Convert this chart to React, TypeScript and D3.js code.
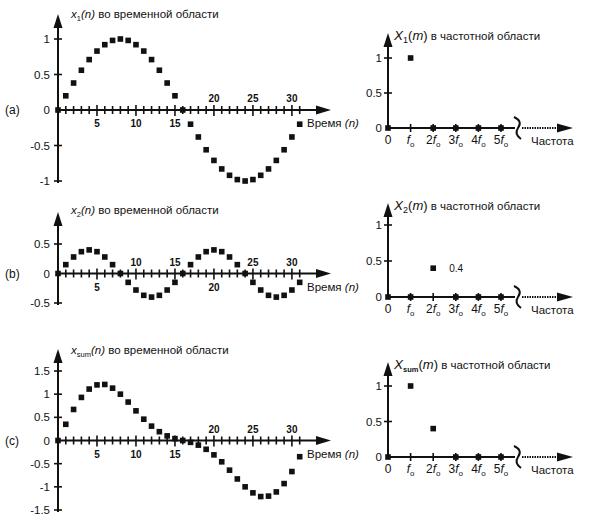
import React from 'react'
import * as d3 from 'd3'

// time-domain samples, n = 0..31
const nIdx = d3.range(32)
const x1Values = [0, 0.2, 0.38, 0.56, 0.71, 0.83, 0.92, 0.98, 1, 0.98, 0.92, 0.83, 0.71, 0.56, 0.38, 0.2,
  0, -0.2, -0.38, -0.56, -0.71, -0.83, -0.92, -0.98, -1, -0.98, -0.92, -0.83, -0.71, -0.56, -0.38, -0.2]
const x2Values = [0, 0.15, 0.28, 0.37, 0.4, 0.37, 0.28, 0.15, 0, -0.15, -0.28, -0.37, -0.4, -0.37, -0.28, -0.15,
  0, 0.15, 0.28, 0.37, 0.4, 0.37, 0.28, 0.15, 0, -0.15, -0.28, -0.37, -0.4, -0.37, -0.28, -0.15]
const xsumValues = [0, 0.35, 0.67, 0.93, 1.11, 1.2, 1.21, 1.13, 1, 0.83, 0.64, 0.46, 0.31, 0.19, 0.1, 0.04,
  0, -0.04, -0.1, -0.19, -0.31, -0.46, -0.64, -0.83, -1, -1.13, -1.21, -1.2, -1.11, -0.93, -0.67, -0.35]

// frequency-domain magnitudes, m = 0..5
const mIdx = [0, 1, 2, 3, 4, 5]
const mLabels = ['0', 'f', '2f', '3f', '4f', '5f']
const X1Values = [0, 1, 0, 0, 0, 0]
const X2Values = [0, 0, 0.4, 0, 0, 0]
const XsumValues = [0, 1, 0.4, 0, 0, 0]

const nTickLabels = [5, 10, 15, 20, 25, 30]
const yTicksA = [-1, -0.5, 0, 0.5, 1]
const yTicksB = [-0.5, 0, 0.5]
const yTicksC = [-1.5, -1, -0.5, 0, 0.5, 1, 1.5]
const freqTicks = [0, 0.5, 1]

const FONT = '"Liberation Sans", Arial, sans-serif'
const INK = '#111'

const xTime = d3.scaleLinear().domain([0, 32]).range([58, 307.5])
const xFreq = d3.scaleLinear().domain([0, 5]).range([388, 501])

const fmt = (d: number) => (d === 0 ? '0' : String(d))

function TimePanel({ values, y, yTicks, above, axisTop, tag, sub, titleY }: any) {
  const y0 = y(0)
  const yMin = y(d3.min(yTicks) as number)
  const xEnd = 331
  return (
    <g>
      {/* title */}
      <text x={71} y={titleY} fontSize={11.5} fill={INK}>
        <tspan fontStyle="italic">x</tspan>
        <tspan fontSize={7.5} dy={3}>{sub}</tspan>
        <tspan dy={-3} fontStyle="italic">(n)</tspan>
        <tspan> во временной области</tspan>
      </text>
      {/* axes */}
      <line x1={58} x2={58} y1={axisTop + 10} y2={yMin + 2} stroke={INK} strokeWidth={2} />
      <path d={`M58,${axisTop} L53.5,${axisTop + 14} L62.5,${axisTop + 14} Z`} fill={INK} />
      <line x1={58} x2={xEnd - 10} y1={y0} y2={y0} stroke={INK} strokeWidth={2} />
      <path d={`M${xEnd},${y0} L${xEnd - 15},${y0 - 4.5} L${xEnd - 15},${y0 + 4.5} Z`} fill={INK} />
      {yTicks.filter((t: number) => t !== 0).map((t: number) => (
        <line key={t} x1={54} x2={62} y1={y(t)} y2={y(t)} stroke={INK} strokeWidth={1.6} />
      ))}
      {yTicks.map((t: number) => (
        <text key={'l' + t} x={50} y={y(t) + 4} textAnchor="end" fontSize={11.5} fill={INK}>{fmt(t)}</text>
      ))}
      {nIdx.filter(n => n > 0).map(n => (
        <line key={n} x1={xTime(n)} x2={xTime(n)}
          y1={y0 - (n % 5 === 0 ? 5 : 4)} y2={y0 + (n % 5 === 0 ? 6 : 4)}
          stroke={INK} strokeWidth={1.6} />
      ))}
      {nTickLabels.map((n, i) => (
        <text key={'n' + n} x={xTime(n)} y={above[i] ? y0 - 8 : y0 + 17} textAnchor="middle"
          fontSize={10} fontWeight="bold" fill={INK}>{n}</text>
      ))}
      <text x={5} y={y0 + 4} fontSize={12} fill={INK}>{tag}</text>
      <text x={307} y={y0 + 17} fontSize={11.5} fill={INK}>
        <tspan>Время </tspan><tspan fontStyle="italic">(n)</tspan>
      </text>
      {/* samples */}
      {values.map((v: number, n: number) => (
        <rect key={'s' + n} x={xTime(n) - 2.8} y={y(v) - 2.8} width={5.6} height={5.6} fill={INK} />
      ))}
    </g>
  )
}

function FreqPanel({ values, y, axisTop, sub, subSize, titleY, note }: any) {
  const y0 = y(0)
  const brk = 518
  const xEnd = 573
  return (
    <g>
      <text x={394} y={titleY} fontSize={11.5} fill={INK}>
        <tspan fontStyle="italic" fontSize={13.5}>X</tspan>
        <tspan fontSize={subSize} dy={3} fontWeight={sub === 'sum' ? 'bold' : 'normal'}>{sub}</tspan>
        <tspan dy={-3} fontSize={13}>(</tspan>
        <tspan fontSize={13} fontStyle="italic">m</tspan>
        <tspan fontSize={13}>)</tspan>
        <tspan> в частотной области</tspan>
      </text>
      <line x1={388} x2={388} y1={axisTop + 10} y2={y0 + 1} stroke={INK} strokeWidth={2} />
      <path d={`M388,${axisTop} L383.5,${axisTop + 14} L392.5,${axisTop + 14} Z`} fill={INK} />
      <line x1={388} x2={brk - 3} y1={y0} y2={y0} stroke={INK} strokeWidth={2} />
      <line x1={brk + 4} x2={xEnd - 12} y1={y0} y2={y0} stroke={INK} strokeWidth={2} strokeDasharray="1.5,1" />
      <path d={`M${xEnd},${y0} L${xEnd - 16},${y0 - 4.5} L${xEnd - 16},${y0 + 4.5} Z`} fill={INK} />
      <path d={`M${brk - 4},${y0 - 11} Q${brk + 5},${y0 - 7} ${brk},${y0} Q${brk - 4},${y0 + 6} ${brk + 3},${y0 + 11}`}
        fill="none" stroke={INK} strokeWidth={2} />
      {freqTicks.filter(t => t !== 0).map(t => (
        <line key={t} x1={384} x2={392} y1={y(t)} y2={y(t)} stroke={INK} strokeWidth={1.6} />
      ))}
      {freqTicks.map(t => (
        <text key={'l' + t} x={382} y={y(t) + 4} textAnchor="end" fontSize={11.5} fill={INK}>{fmt(t)}</text>
      ))}
      {mIdx.filter(m => m > 0).map(m => (
        <line key={m} x1={xFreq(m)} x2={xFreq(m)} y1={y0 - 4} y2={y0 + 4} stroke={INK} strokeWidth={1.6} />
      ))}
      {mLabels.map((lab, m) => (
        <text key={'m' + m} x={xFreq(m)} y={y0 + 16} textAnchor="middle" fontSize={12} fill={INK}>
          {lab === '0' ? '0' : (
            <>
              <tspan>{lab.slice(0, -1)}</tspan>
              <tspan fontStyle="italic">f</tspan>
              <tspan fontSize={8} dy={3}>o</tspan>
            </>
          )}
        </text>
      ))}
      <text x={531} y={y0 + 17} fontSize={11.5} fill={INK}>Частота</text>
      {values.map((v: number, m: number) => (
        <rect key={'s' + m} x={xFreq(m) - 2.8} y={y(v) - 2.8} width={5.6} height={5.6} fill={INK} />
      ))}
      {note && (
        <text x={xFreq(2) + 16} y={y(0.4) + 4} fontSize={10} fill={INK}>{note}</text>
      )}
    </g>
  )
}

export default function App() {
  const yA = d3.scaleLinear().domain([-1, 1]).range([181, 39])
  const yB = d3.scaleLinear().domain([-0.5, 0.5]).range([303, 244])
  const yC = d3.scaleLinear().domain([-1.5, 1.5]).range([510, 371])
  const fA = d3.scaleLinear().domain([0, 1]).range([128, 58])
  const fB = d3.scaleLinear().domain([0, 1]).range([297, 225])
  const fC = d3.scaleLinear().domain([0, 1]).range([457, 386])

  return (
    <svg width={593} height={531} style={{ position: 'absolute', left: 0, top: 0, background: '#fff' }}
      fontFamily={FONT}>
      <rect width={593} height={531} fill="#fff" />
      <TimePanel values={x1Values} y={yA} yTicks={yTicksA} above={[0, 0, 0, 1, 1, 1]}
        axisTop={14} tag="(a)" sub="1" titleY={18} />
      <FreqPanel values={X1Values} y={fA} axisTop={33} sub="1" subSize={9} titleY={40} />

      <TimePanel values={x2Values} y={yB} yTicks={yTicksB} above={[0, 1, 1, 0, 1, 1]}
        axisTop={212} tag="(b)" sub="2" titleY={214} />
      <FreqPanel values={X2Values} y={fB} axisTop={203} sub="2" subSize={9} titleY={210} note="0.4" />

      <TimePanel values={xsumValues} y={yC} yTicks={yTicksC} above={[0, 0, 0, 1, 1, 1]}
        axisTop={349} tag="(c)" sub="sum" titleY={354} />
      <FreqPanel values={XsumValues} y={fC} axisTop={362} sub="sum" subSize={7.5} titleY={369} />
    </svg>
  )
}
